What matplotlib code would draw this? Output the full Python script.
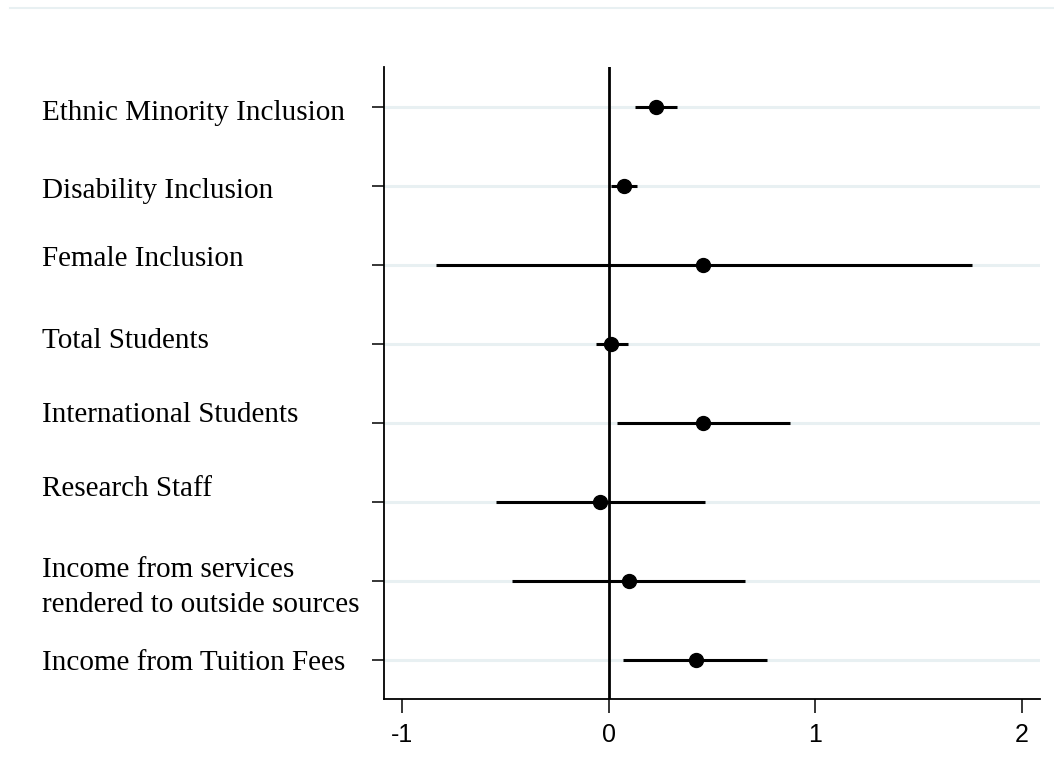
import matplotlib
matplotlib.use('Agg')
import matplotlib.pyplot as plt
from matplotlib.transforms import blended_transform_factory, ScaledTranslation

''' Coefficient plot '''

labels = ['Ethnic Minority Inclusion', 'Disability Inclusion', 'Female Inclusion',
          'Total Students', 'International Students', 'Research Staff',
          'Income from services\nrendered to outside sources',
          'Income from Tuition Fees']
coef = [0.227, 0.074, 0.458, 0.012, 0.458, -0.040, 0.097, 0.422]
ci_low = [0.126, 0.010, -0.837, -0.060, 0.042, -0.545, -0.467, 0.070]
ci_high = [0.329, 0.139, 1.756, 0.092, 0.877, 0.465, 0.659, 0.768]
xticks = [-1, 0, 1, 2]

# small vertical nudges (pixels) for the row labels, as in the original
label_dy = [-6, -5, 6, 3, 8, 12, -7, -4]

grid_col = '#e8f0f2'

fig = plt.figure(figsize=(10.54, 7.69), dpi=100)
ax = fig.add_axes([384 / 1054, 70 / 769, 656 / 1054, 632 / 769])

rows = list(range(1, len(labels) + 1))

#grid rows
for r in rows:
    ax.axhline(r, color=grid_col, lw=2.2, zorder=0)

ax.axvline(0, color='black', lw=2.0, zorder=1)

for r, c, lo, hi in zip(rows, coef, ci_low, ci_high):
    ax.plot([lo, hi], [r, r], color='black', lw=2.2, solid_capstyle='butt', zorder=2)
ax.plot(coef, rows, 'o', color='black', ms=10, zorder=3)

ax.set_ylim(len(labels) + 0.5, 0.5)
ax.set_xlim(-1.087, 2.087)

ax.set_yticks(rows)
ax.set_yticklabels([''] * len(rows))
ax.set_xticks(xticks)
ax.set_xticklabels([str(t) for t in xticks], family='Liberation Sans', fontsize=18)
ax.tick_params(axis='y', length=9, width=1.1, direction='out')
ax.tick_params(axis='x', length=10, width=1.1, direction='out', pad=7)

for side in ['top', 'right']:
    ax.spines[side].set_visible(False)
for side in ['left', 'bottom']:
    ax.spines[side].set_linewidth(1.3)

#row labels, left aligned at the figure edge
trans = blended_transform_factory(fig.transFigure, ax.transData)
for r, lab, dy in zip(rows, labels, label_dy):
    off = ScaledTranslation(0, dy / 100, fig.dpi_scale_trans)
    ax.text(42 / 1054, r, lab, transform=trans + off, ha='left', va='center',
            family='Liberation Serif', fontsize=21, linespacing=1.45)

#thin rule under the cropped caption
fig.add_artist(plt.Line2D([10 / 1054, 1], [1 - 8 / 769, 1 - 8 / 769],
                          color=grid_col, lw=1.5, transform=fig.transFigure))

plt.savefig('out.png', dpi=100)
